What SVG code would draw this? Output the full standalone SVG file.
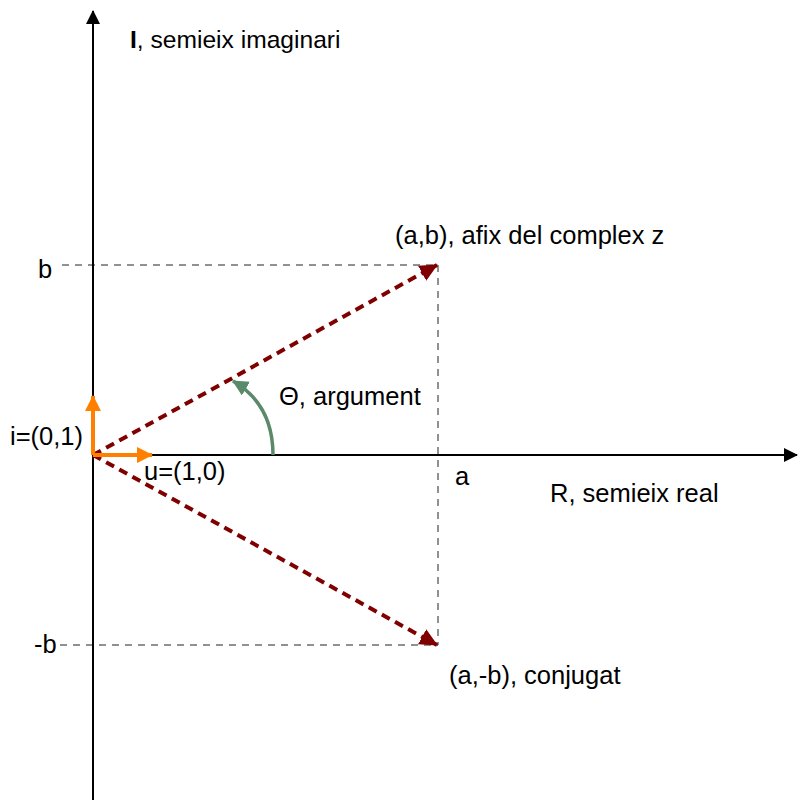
<svg xmlns="http://www.w3.org/2000/svg" width="798" height="800" viewBox="0 0 798 800">
<style>
text{font-family:"Liberation Sans",Arial,sans-serif;font-size:25.5px;fill:#000}
.axis{stroke:#000;stroke-width:2;fill:none}
.guide{stroke:#222;stroke-width:1;stroke-dasharray:7 6;fill:none}
.vec{stroke:#800000;stroke-width:4;stroke-dasharray:9 6;fill:none}
.unit{stroke:#ff8000;stroke-width:4;fill:none}
.ang{stroke:#5a8a6a;stroke-width:3.5;fill:none}
</style>
<defs>
<marker id="mAxis" viewBox="0 0 14 14" refX="13" refY="7" markerWidth="14" markerHeight="14" markerUnits="userSpaceOnUse" orient="auto"><path d="M0,0 L14,7 L0,14 Z" fill="#000"/></marker>
<marker id="mVec" viewBox="0 0 18 18" refX="17" refY="9" markerWidth="18" markerHeight="18" markerUnits="userSpaceOnUse" orient="auto"><path d="M0,0.5 L18,9 L0,17.5 Z" fill="#800000"/></marker>
<marker id="mUnit" viewBox="0 0 16 16" refX="15" refY="8" markerWidth="16" markerHeight="16" markerUnits="userSpaceOnUse" orient="auto"><path d="M0,0 L16,8 L0,16 Z" fill="#ff8000"/></marker>
<marker id="mAng" viewBox="0 0 16 16" refX="15" refY="8" markerWidth="16" markerHeight="16" markerUnits="userSpaceOnUse" orient="auto"><path d="M0,0 L16,8 L0,16 Z" fill="#5a8a6a"/></marker>
</defs>
<g id="connectors">
<line class="guide" x1="62" y1="265" x2="438" y2="265"/>
<line class="guide" x1="60" y1="645" x2="438" y2="645"/>
<line class="guide" x1="438" y1="265" x2="438" y2="645"/>
<line class="axis" x1="93" y1="800" x2="93" y2="11" marker-end="url(#mAxis)"/>
<line class="axis" x1="93" y1="455" x2="797" y2="455" marker-end="url(#mAxis)"/>
<line class="vec" x1="93" y1="455" x2="437" y2="265" marker-end="url(#mVec)"/>
<line class="vec" x1="93" y1="455" x2="437" y2="645" marker-end="url(#mVec)"/>
<line class="unit" x1="93" y1="455" x2="93" y2="396" marker-end="url(#mUnit)"/>
<line class="unit" x1="93" y1="455" x2="152" y2="455" marker-end="url(#mUnit)"/>
<path class="ang" d="M273,455 C273,425 262,398 233,381" marker-end="url(#mAng)"/>
</g>
<g id="label-imag"><text x="130" y="48" style="font-size:24.6px"><tspan font-weight="bold">I</tspan>, semieix imaginari</text></g>
<g id="label-z"><text x="395" y="244">(a,b), afix del complex z</text></g>
<g id="label-b"><text x="38" y="278">b</text></g>
<g id="label-theta"><text x="279" y="405">Θ, argument</text></g>
<g id="label-i"><text x="10" y="445">i=(0,1)</text></g>
<g id="label-u"><text x="144" y="480">u=(1,0)</text></g>
<g id="label-a"><text x="455" y="485">a</text></g>
<g id="label-real"><text x="550" y="502">R, semieix real</text></g>
<g id="label-mb"><text x="34" y="653">-b</text></g>
<g id="label-conj"><text x="449" y="684">(a,-b), conjugat</text></g>
</svg>
